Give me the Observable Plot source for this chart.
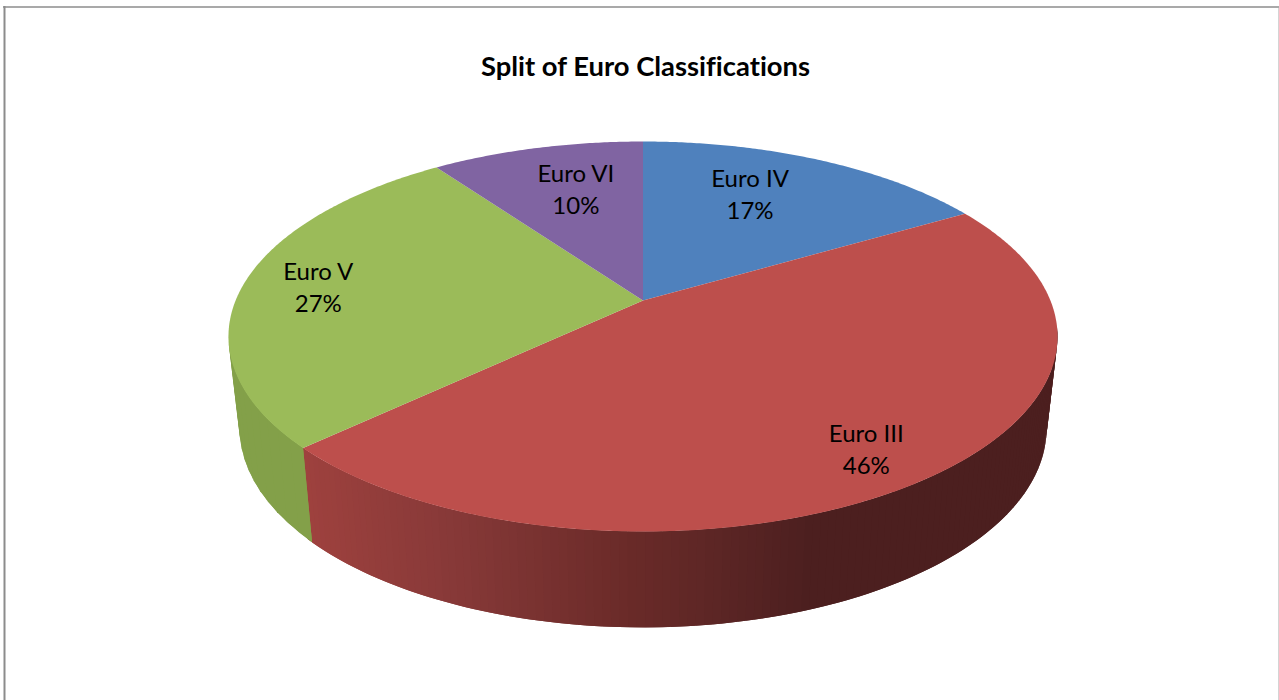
<!DOCTYPE html>
<html>
<head>
<meta charset="utf-8">
<script src="https://cdn.jsdelivr.net/npm/d3@7"></script>
<script src="https://cdn.jsdelivr.net/npm/@observablehq/plot@0.6"></script>
<style>
html,body{margin:0;padding:0;background:#fff;overflow:hidden}
svg{display:block}
svg text{font-variant-ligatures:none}
</style>
</head>
<body>
<div id="chart"></div>
<script>
const chartTitle = "Split of Euro Classifications";
const categories = ["Euro IV", "Euro III", "Euro V", "Euro VI"];
const shares = [16.6, 46.4, 27.1, 9.9];
const topColors = ["#4f81bd", "#bd4f4c", "#9bbb59", "#8064a2"];

// Perspective of the tilted disc (pixel-scale geometry, derived from the picture)
const cx = 642.5, apexY = 300, persp = 0.1846, yGain = -132.97, xGain = 407.4;
const rimK = 1.02, rimShrink = 403.5 / 414.5, ellipseCy = 336, rimCy = 428;
const rad = d => d * Math.PI / 180;
function topPt(deg, r = 1) {
  const X = r * Math.sin(rad(deg)), Y = r * Math.cos(rad(deg)), w = 1 + persp * Y;
  return [cx + xGain * X / w, (yGain * Y + apexY) / w];
}
function rimPt(deg) {
  const [x, y] = topPt(deg);
  return [cx + (x - cx) * rimShrink, rimCy + (y - ellipseCy) * rimK];
}

// Slice angles from the values
const total = d3.sum(shares);
let acc = 0;
const slices = categories.map((name, i) => {
  const a0 = acc / total * 360; acc += shares[i];
  return {name, share: shares[i], color: topColors[i], a0, a1: acc / total * 360};
});

// Top faces
const facePts = [];
slices.forEach(s => {
  const n = Math.ceil((s.a1 - s.a0) * 2);
  const add = p => facePts.push({id: s.name, x: p[0], y: p[1], color: s.color});
  add(topPt(0, 0));
  d3.range(n + 1).forEach(k => add(topPt(s.a0 + (s.a1 - s.a0) * k / n)));
});

// Side wall strips, shaded by horizontal position; each strip runs under its
// neighbour so no seam shows between them
const redShade = d3.scaleLinear()
  .domain([304, 450, 633, 700, 810])
  .range(["#9e413e", "#873938", "#692a28", "#5f2726", "#4c1f1f"])
  .clamp(true);
const greenShade = () => "#83a049";
const sidePts = [];
function strip(from, to, step, shade, tag) {
  // from → to in painting order: later strips paint over the overlap
  const n = Math.ceil(Math.abs(to - from) / Math.abs(step));
  for (let k = 0; k < n; k++) {
    const a = from + k * step;
    const b = k === n - 1 ? to : a + step;
    const over = k === n - 1 ? b : b + step;
    const id = tag + k;
    const color = shade(topPt((a + b) / 2)[0]);
    [topPt(a), topPt(over), rimPt(over), rimPt(a)].forEach(p =>
      sidePts.push({id, x: p[0], y: p[1], color}));
  }
}
strip(slices[1].a0 + 38, slices[1].a1, 1, redShade, "red");
strip(slices[2].a0 + 36, slices[2].a0, -3, greenShade, "green");

// Labels sit near the outer part of each slice
const labelRadius = 0.72;
const labelNudge = [[-24, -2.3], [27, 26], [-36.5, -1.4], [12.5, 1.5]];
const labels = slices.map((s, i) => {
  const [x, y] = topPt((s.a0 + s.a1) / 2, labelRadius);
  return {text: `${s.name}\n${Math.round(s.share)}%`, x: x + labelNudge[i][0], y: y + labelNudge[i][1]};
});

const plot = Plot.plot({
  width: 1279, height: 700,
  marginTop: 0, marginRight: 0, marginBottom: 0, marginLeft: 0,
  x: {domain: [0, 1279], range: [0, 1279], axis: null},
  y: {domain: [0, 700], range: [0, 700], axis: null},
  color: {type: "identity"},
  style: {fontFamily: "Lato, 'Open Sans', sans-serif", background: "#fff"},
  marks: [
    Plot.ruleX([4], {y1: 6, y2: 700, stroke: "#8c8c8c", strokeWidth: 2}),
    Plot.ruleY([6.5], {x1: 3, x2: 1279, stroke: "#8c8c8c", strokeWidth: 1.5}),
    Plot.ruleX([1278.5], {y1: 6, y2: 700, stroke: "#a8a8a8", strokeWidth: 1}),
    Plot.line(sidePts, {x: "x", y: "y", z: "id", fill: "color", stroke: "none", curve: "linear-closed"}),
    Plot.line(facePts, {x: "x", y: "y", z: "id", fill: "color", stroke: "none", curve: "linear-closed"}),
    Plot.text(labels, {x: "x", y: "y", text: "text", fontSize: 24, lineHeight: 1.33, fill: "#000"}),
    Plot.text([chartTitle], {x: () => 645, y: () => 67, fontSize: 27.4, fontWeight: 700, fill: "#000"})
  ]
});
document.getElementById("chart").append(plot);
</script>
</body>
</html>
